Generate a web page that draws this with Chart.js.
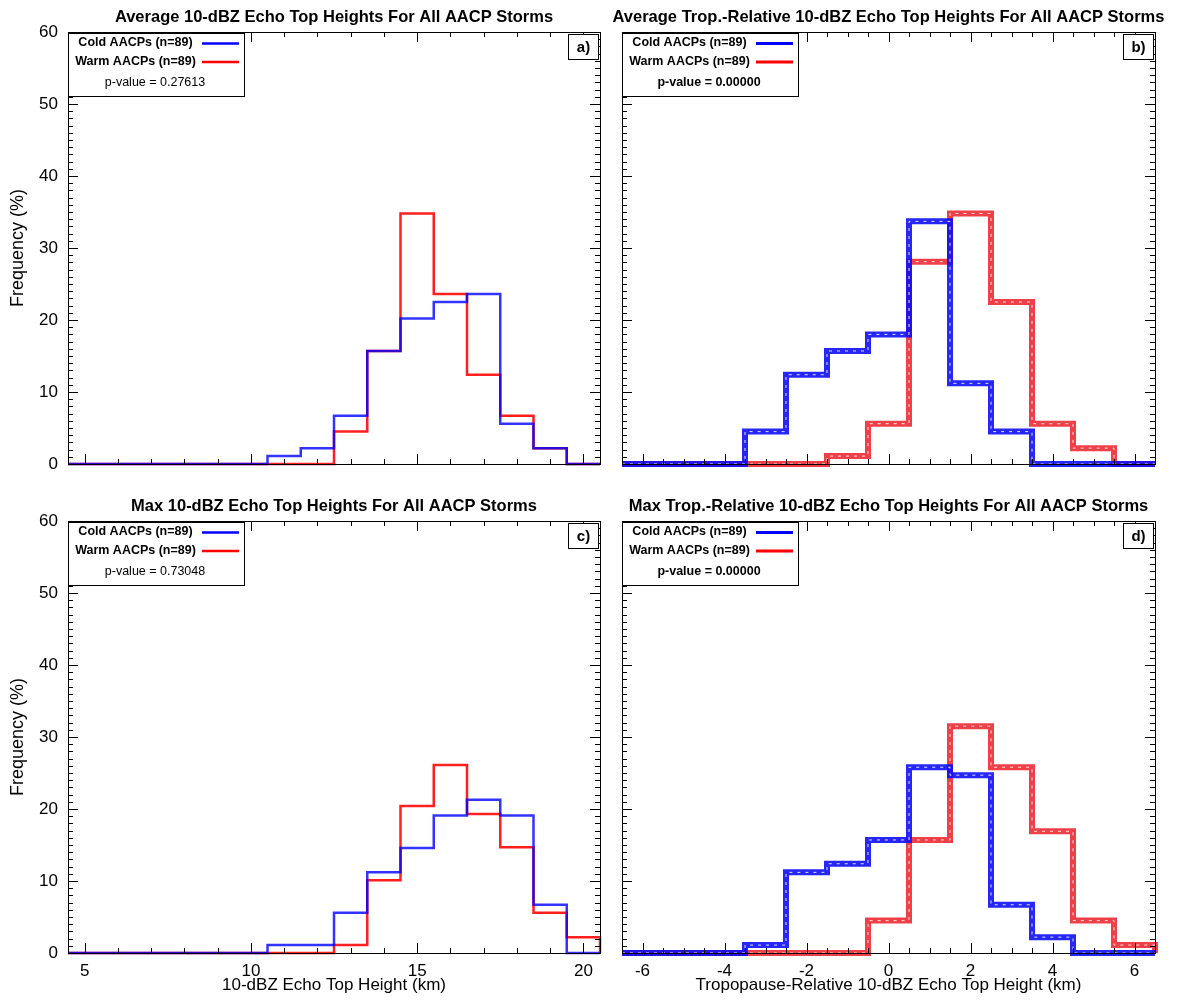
<!DOCTYPE html>
<html>
<head>
<meta charset="utf-8">
<script src="https://cdn.jsdelivr.net/npm/chart.js@4.4.1/dist/chart.umd.min.js"></script>
<style>
  html, body { margin: 0; padding: 0; background: #fff; }
  #wrap { position: relative; width: 1189px; height: 1004px; overflow: hidden; }
  #wrap canvas { position: absolute; left: 0; }
</style>
</head>
<body>
<div id="wrap">
  <canvas id="pa" width="1189" height="500" style="top:0"></canvas>
  <canvas id="pb" width="1189" height="500" style="top:0"></canvas>
  <canvas id="pc" width="1189" height="515" style="top:489px"></canvas>
  <canvas id="pd" width="1189" height="515" style="top:489px"></canvas>
</div>
<script>
// ── DATA ─────────────────────────────────────────
// bin centres (1 km bins)
const absBins = [5, 6, 7, 8, 9, 10, 11, 12, 13, 14, 15, 16, 17, 18, 19, 20];
const relBins = [-6, -5, -4, -3, -2, -1, 0, 1, 2, 3, 4, 5, 6];

const absTicks  = [5, 10, 15, 20];
const relTicks  = [-6, -4, -2, 0, 2, 4, 6];
const freqTicks = [0, 10, 20, 30, 40, 50, 60];

// frequency (%) per bin
const avgCold   = [0, 0, 0, 0, 0, 0, 1.1, 2.2, 6.7, 15.7, 20.2, 22.5, 23.6, 5.6, 2.2, 0];
const avgWarm   = [0, 0, 0, 0, 0, 0, 0, 0, 4.5, 15.7, 34.8, 23.6, 12.4, 6.7, 2.2, 0];
const maxCold   = [0, 0, 0, 0, 0, 0, 1.1, 1.1, 5.6, 11.2, 14.6, 19.1, 21.3, 19.1, 6.7, 0];
const maxWarm   = [0, 0, 0, 0, 0, 0, 0, 0, 1.1, 10.1, 20.4, 26.1, 19.3, 14.7, 5.6, 2.2];
const trAvgCold = [0, 0, 0, 4.5, 12.4, 15.7, 18.0, 33.7, 11.2, 4.5, 0, 0, 0];
const trAvgWarm = [0, 0, 0, 0, 0, 1.1, 5.6, 28.1, 34.8, 22.5, 5.6, 2.2, 0];
const trMaxCold = [0, 0, 0, 1.1, 11.2, 12.4, 15.7, 25.8, 24.7, 6.7, 2.2, 0, 0];
const trMaxWarm = [0, 0, 0, 0, 0, 0, 4.5, 15.7, 31.5, 25.8, 16.9, 4.5, 1.1];

const seriesNames = ['Cold AACPs (n=89)', 'Warm AACPs (n=89)'];
const titles = [
  'Average 10-dBZ Echo Top Heights For All AACP Storms',
  'Average Trop.-Relative 10-dBZ Echo Top Heights For All AACP Storms',
  'Max 10-dBZ Echo Top Heights For All AACP Storms',
  'Max Trop.-Relative 10-dBZ Echo Top Heights For All AACP Storms'
];
const pValues   = ['0.27613', '0.00000', '0.73048', '0.00000'];
const panelTags = ['a)', 'b)', 'c)', 'd)'];

const FAM = "'Liberation Sans', Arial, Helvetica, sans-serif";
Chart.defaults.font.family = FAM;
Chart.defaults.color = '#000';

// ── HELPERS ──────────────────────────────────────
// histogram outline: one point per left bin edge, closed at the last right edge
function steps(bins, vals) {
  const half = (bins[1] - bins[0]) / 2;
  const pts = bins.map((b, i) => ({ x: b - half, y: vals[i] }));
  pts.push({ x: bins[bins.length - 1] + half, y: 0 });
  return pts;
}

function lineSet(data, color, width, dash) {
  return {
    data, borderColor: color, borderWidth: width, borderDash: dash || [],
    stepped: 'before', pointRadius: 0, fill: false, clip: false, tension: 0
  };
}

// frame, inward ticks, title, legend box, panel tag
const framePlugin = {
  id: 'frame',
  afterDatasetsDraw(chart, args, o) {
    const { ctx, chartArea: { left, right, top, bottom }, scales: { x, y } } = chart;
    ctx.save();
    ctx.strokeStyle = '#000';
    ctx.lineWidth = 1;
    ctx.strokeRect(left + 0.5, top + 0.5, right - left, bottom - top);

    const tick = (scale, step, major, horiz) => {
      const k0 = Math.ceil(scale.min / step - 1e-6), k1 = Math.floor(scale.max / step + 1e-6);
      for (let k = k0; k <= k1; k++) {
        const v = k * step;
        const isMaj = Math.abs(v / major - Math.round(v / major)) < 1e-6;
        const len = isMaj ? 10 : 5;
        const p = Math.round(scale.getPixelForValue(v)) + 0.5;
        ctx.beginPath();
        if (horiz) {
          ctx.moveTo(p, bottom); ctx.lineTo(p, bottom - len);
          ctx.moveTo(p, top);    ctx.lineTo(p, top + len);
        } else {
          ctx.moveTo(left, p);  ctx.lineTo(left + len, p);
          ctx.moveTo(right, p); ctx.lineTo(right - len, p);
        }
        ctx.stroke();
      }
    };
    tick(x, o.xMinor, o.xMajor, true);
    tick(y, 1, 10, false);
    ctx.restore();
  },
  afterDraw(chart, args, o) {
    const { ctx, chartArea: { left, right, top } } = chart;
    ctx.save();
    // title
    ctx.fillStyle = '#000';
    ctx.font = `bold 16.5px ${FAM}`;
    ctx.textAlign = 'center';
    ctx.textBaseline = 'middle';
    ctx.fillText(o.title, (left + right) / 2, top - 15);

    // legend box
    const bw = 176, bh = 63;
    ctx.fillStyle = '#fff';
    ctx.fillRect(left, top + 1, bw, bh);
    ctx.strokeStyle = '#000';
    ctx.lineWidth = 1;
    ctx.strokeRect(left + 0.5, top + 1.5, bw, bh);

    ctx.fillStyle = '#000';
    ctx.font = `bold 12.5px ${FAM}`;
    ctx.fillText(seriesNames[0], left + 67.5, top + 11);
    ctx.fillText(seriesNames[1], left + 67.5, top + 29.5);
    ctx.font = `${o.pBold ? 'bold ' : ''}12.5px ${FAM}`;
    ctx.fillText('p-value = ' + o.pValue, left + 87, top + 50.5);

    ctx.lineWidth = o.sampleWidth;
    ctx.strokeStyle = '#0000ff';
    ctx.beginPath(); ctx.moveTo(left + 134, top + 11.5); ctx.lineTo(left + 171, top + 11.5); ctx.stroke();
    ctx.strokeStyle = '#ff0000';
    ctx.beginPath(); ctx.moveTo(left + 134, top + 30); ctx.lineTo(left + 171, top + 30); ctx.stroke();

    // panel tag
    ctx.lineWidth = 1;
    ctx.strokeStyle = '#000';
    ctx.fillStyle = '#fff';
    ctx.fillRect(right - 32, top + 2, 30, 25);
    ctx.strokeRect(right - 31.5, top + 2.5, 30, 25);
    ctx.fillStyle = '#000';
    ctx.font = `bold 15px ${FAM}`;
    ctx.fillText(o.tag, right - 16.5, top + 15.5);
    ctx.restore();
  }
};

// ── PANELS ───────────────────────────────────────
function makePanel(id, idx, cfg) {
  const leftCol = idx % 2 === 0, bottomRow = idx >= 2;
  const thick = !leftCol;
  let datasets;
  if (thick) {
    datasets = [
      lineSet(steps(cfg.bins, cfg.cold), 'rgba(255,255,255,0.85)', 1, [3, 5]),
      lineSet(steps(cfg.bins, cfg.cold), 'rgba(14,14,246,0.9)', 6),
      lineSet(steps(cfg.bins, cfg.warm), 'rgba(255,255,255,0.85)', 1, [3, 5]),
      lineSet(steps(cfg.bins, cfg.warm), 'rgba(238,38,46,0.88)', 6)
    ];
  } else {
    datasets = [
      lineSet(steps(cfg.bins, cfg.cold), 'rgba(0,0,255,0.8)', 2.5),
      lineSet(steps(cfg.bins, cfg.warm), 'rgba(255,0,0,0.88)', 2.5)
    ];
  }

  new Chart(document.getElementById(id), {
    type: 'line',
    data: { datasets },
    options: {
      responsive: false,
      animation: false,
      events: [],
      layout: { padding: { left: leftCol ? 0 : 600, right: leftCol ? 589 : 34, top: 32, bottom: 0 } },
      plugins: {
        legend: { display: false },
        tooltip: { enabled: false },
        frame: {
          title: titles[idx], pValue: pValues[idx], pBold: thick, tag: panelTags[idx],
          xMinor: cfg.xMinor, xMajor: cfg.xMajor, sampleWidth: thick ? 3 : 2.5
        }
      },
      scales: {
        x: {
          type: 'linear', min: cfg.min, max: cfg.max,
          afterBuildTicks: s => { s.ticks = cfg.ticks.map(v => ({ value: v })); },
          afterFit: s => { s.height = bottomRow ? 51 : 36; },
          grid: { display: false, drawTicks: false },
          border: { display: false },
          ticks: { display: bottomRow, padding: 8, font: { size: 17 }, color: '#000', autoSkip: false, maxRotation: 0 },
          title: { display: bottomRow, text: cfg.xTitle, font: { size: 17 }, color: '#000', padding: { top: 0, bottom: 8 } }
        },
        y: {
          type: 'linear', min: 0, max: 60,
          afterBuildTicks: s => { s.ticks = freqTicks.map(v => ({ value: v })); },
          afterFit: s => { s.width = leftCol ? 68 : 22; },
          grid: { display: false, drawTicks: false },
          border: { display: false },
          ticks: { display: leftCol, padding: 10, font: { size: 17 }, color: '#000' },
          title: { display: leftCol, text: 'Frequency (%)', font: { size: 18 }, color: '#000', padding: { top: 7, bottom: 0 } }
        }
      }
    },
    plugins: [framePlugin]
  });
}

const absCfg = { bins: absBins, min: 4.5, max: 20.5, ticks: absTicks, xMinor: 1, xMajor: 5, xTitle: '10-dBZ Echo Top Height (km)' };
const relCfg = { bins: relBins, min: -6.5, max: 6.5, ticks: relTicks, xMinor: 0.5, xMajor: 2, xTitle: 'Tropopause-Relative 10-dBZ Echo Top Height (km)' };

makePanel('pa', 0, Object.assign({}, absCfg, { cold: avgCold, warm: avgWarm }));
makePanel('pb', 1, Object.assign({}, relCfg, { cold: trAvgCold, warm: trAvgWarm }));
makePanel('pc', 2, Object.assign({}, absCfg, { cold: maxCold, warm: maxWarm }));
makePanel('pd', 3, Object.assign({}, relCfg, { cold: trMaxCold, warm: trMaxWarm }));
</script>
</body>
</html>
